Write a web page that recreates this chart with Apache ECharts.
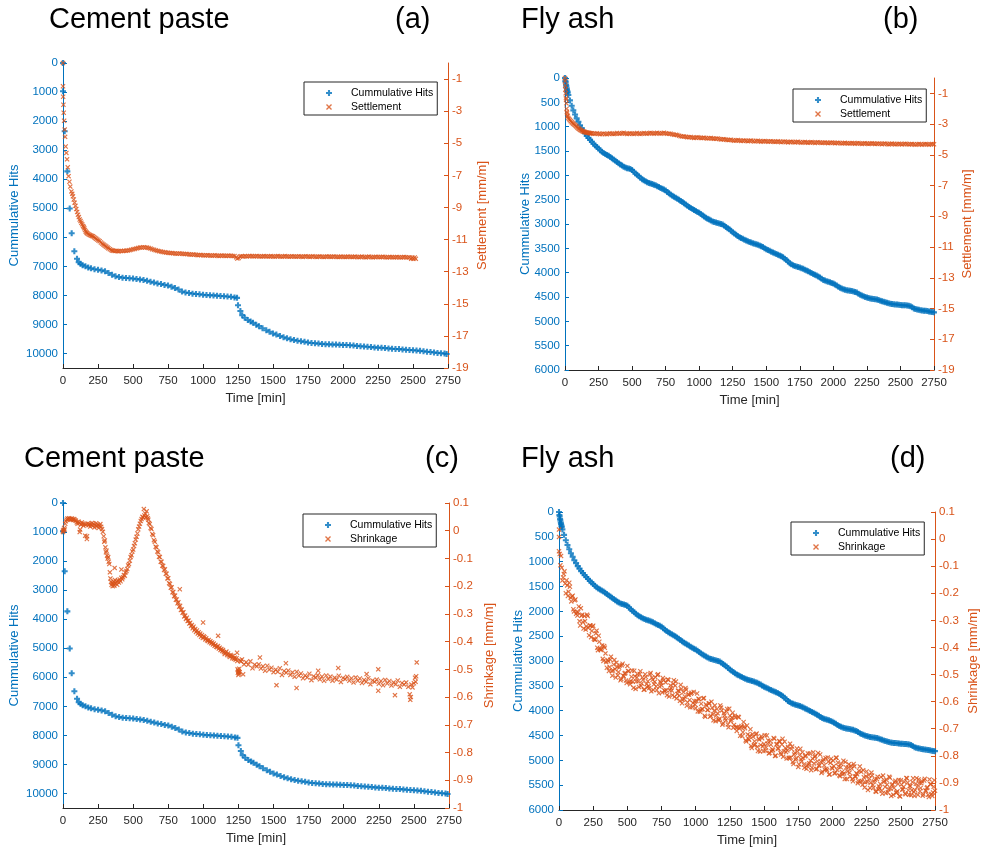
<!DOCTYPE html>
<html>
<head>
<meta charset="utf-8">
<title>Cummulative hits vs settlement / shrinkage</title>
<script src="https://cdn.jsdelivr.net/npm/echarts@6/dist/echarts.min.js"></script>
<style>
  html, body { margin: 0; padding: 0; background: #fff; }
  #chart { width: 983px; height: 849px; }
</style>
</head>
<body>
<div id="chart"></div>
<script>
// tick labels
const cementHitTicks = [0, 1000, 2000, 3000, 4000, 5000, 6000, 7000, 8000, 9000, 10000]
const flyHitTicks = [0, 500, 1000, 1500, 2000, 2500, 3000, 3500, 4000, 4500, 5000, 5500, 6000]
const settlementTicks = [-19, -17, -15, -13, -11, -9, -7, -5, -3, -1]
const shrinkageTicks = [-1, -0.9, -0.8, -0.7, -0.6, -0.5, -0.4, -0.3, -0.2, -0.1, 0, 0.1]

// [time (min), cumulative hits] - cement paste, shared by (a) and (c)
const cementHits = [
  [0, 0], [0, 975], [12, 2350], [31, 3730], [48, 5010], [62, 5860], [81, 6480], [100, 6740],
  [112, 6860], [125, 6910], [140, 6960], [160, 7000], [180, 7040], [200, 7070], [225, 7100],
  [250, 7120], [275, 7140], [300, 7170], [325, 7230], [350, 7290], [375, 7340], [400, 7370],
  [425, 7390], [450, 7400], [475, 7410], [500, 7420], [525, 7440], [550, 7450], [575, 7470],
  [600, 7500], [625, 7530], [650, 7560], [675, 7590], [700, 7610], [725, 7640], [750, 7660],
  [775, 7700], [800, 7750], [825, 7800], [850, 7870], [875, 7900], [900, 7920], [925, 7940],
  [950, 7950], [975, 7960], [1000, 7980], [1025, 7990], [1050, 7995], [1075, 8000], [1100, 8010],
  [1125, 8020], [1150, 8030], [1175, 8040], [1200, 8050], [1225, 8070], [1243, 8085],
  [1250, 8340], [1267, 8540], [1280, 8680], [1298, 8770], [1320, 8850], [1340, 8900], [1357, 8945],
  [1380, 9010], [1400, 9060], [1425, 9130], [1452, 9200], [1475, 9250], [1500, 9310], [1524, 9350],
  [1550, 9400], [1575, 9440], [1600, 9480], [1625, 9510], [1650, 9540], [1675, 9560], [1700, 9580],
  [1725, 9600], [1750, 9620], [1775, 9640], [1800, 9650], [1825, 9660], [1850, 9670], [1875, 9680],
  [1900, 9685], [1925, 9690], [1950, 9695], [1975, 9700], [2000, 9705], [2025, 9710], [2050, 9715],
  [2075, 9725], [2100, 9740], [2125, 9750], [2150, 9760], [2175, 9770], [2200, 9780], [2225, 9790],
  [2250, 9800], [2275, 9805], [2300, 9815], [2325, 9825], [2350, 9835], [2375, 9845], [2400, 9850],
  [2425, 9860], [2450, 9870], [2475, 9880], [2500, 9890], [2525, 9900], [2550, 9910], [2575, 9925],
  [2600, 9940], [2625, 9950], [2650, 9965], [2675, 9980], [2700, 9990], [2725, 10000], [2740, 10020]
]

// [time, settlement mm/m] - cement paste (a)
const cementSettlement = [
  [0, 0], [0, -1.45], [1, -2.1], [3, -2.6], [5, -3.1], [8, -3.6], [12, -4.15], [15, -4.6], [19, -5.2],
  [24, -5.6], [29, -6.0], [34, -6.5], [40, -7.05], [46, -7.4], [52, -7.7], [60, -8.0], [66, -8.15],
  [71, -8.3], [77, -8.5], [83, -8.7], [89, -8.9], [95, -9.1], [101, -9.28], [107, -9.45], [113, -9.6],
  [119, -9.75], [125, -9.85], [131, -9.95], [137, -10.05], [143, -10.15], [148, -10.22], [152, -10.3],
  [157, -10.4], [162, -10.5], [167, -10.55], [171, -10.6], [178, -10.64], [185, -10.68], [192, -10.72],
  [200, -10.75], [207, -10.78], [214, -10.8], [222, -10.85], [230, -10.9], [237, -10.95], [245, -11.0],
  [253, -11.05], [262, -11.1], [271, -11.18], [280, -11.25], [288, -11.3], [295, -11.35], [303, -11.4],
  [310, -11.45], [318, -11.5], [325, -11.55], [335, -11.6], [345, -11.65], [352, -11.68], [360, -11.7],
  [370, -11.71], [381, -11.7], [390, -11.72], [400, -11.72], [412, -11.71], [425, -11.71], [437, -11.7],
  [450, -11.7], [462, -11.68], [475, -11.66], [487, -11.63], [500, -11.6], [512, -11.58], [525, -11.55],
  [537, -11.52], [550, -11.5], [562, -11.49], [575, -11.48], [587, -11.49], [600, -11.5], [612, -11.53],
  [625, -11.56], [637, -11.6], [650, -11.63], [662, -11.67], [675, -11.7], [687, -11.73], [700, -11.75],
  [712, -11.77], [725, -11.79], [737, -11.81], [750, -11.82], [762, -11.84], [775, -11.84], [787, -11.85],
  [800, -11.86], [812, -11.88], [825, -11.87], [837, -11.87], [850, -11.88], [862, -11.9], [875, -11.9],
  [887, -11.9], [900, -11.92], [912, -11.94], [925, -11.93], [937, -11.93], [950, -11.95], [962, -11.97],
  [975, -11.96], [987, -11.96], [1000, -11.97], [1012, -11.99], [1025, -11.98], [1037, -11.97],
  [1050, -11.99], [1062, -12.01], [1075, -11.99], [1087, -11.98], [1100, -12.0], [1112, -12.02],
  [1125, -12.0], [1137, -11.99], [1150, -12.0], [1162, -12.02], [1175, -12.01], [1187, -12.0],
  [1200, -12.01], [1212, -12.03], [1225, -12.03], [1237, -12.1], [1245, -12.18], [1255, -12.15],
  [1265, -12.05], [1275, -12.04], [1287, -12.05], [1300, -12.03], [1312, -12.05], [1325, -12.04],
  [1337, -12.02], [1350, -12.03], [1362, -12.05], [1375, -12.04], [1387, -12.02], [1400, -12.04],
  [1412, -12.06], [1425, -12.05], [1437, -12.03], [1450, -12.04], [1462, -12.06], [1475, -12.05],
  [1487, -12.03], [1500, -12.05], [1512, -12.07], [1525, -12.04], [1537, -12.03], [1550, -12.05],
  [1562, -12.07], [1575, -12.05], [1587, -12.03], [1600, -12.05], [1612, -12.07], [1625, -12.06],
  [1637, -12.04], [1650, -12.05], [1662, -12.07], [1675, -12.06], [1687, -12.04], [1700, -12.06],
  [1712, -12.08], [1725, -12.05], [1737, -12.04], [1750, -12.06], [1762, -12.08], [1775, -12.06],
  [1787, -12.04], [1800, -12.07], [1812, -12.09], [1825, -12.06], [1837, -12.05], [1850, -12.07],
  [1862, -12.09], [1875, -12.07], [1887, -12.05], [1900, -12.06], [1912, -12.08], [1925, -12.07],
  [1937, -12.05], [1950, -12.07], [1962, -12.09], [1975, -12.08], [1987, -12.06], [2000, -12.07],
  [2012, -12.09], [2025, -12.08], [2037, -12.06], [2050, -12.07], [2062, -12.09], [2075, -12.08],
  [2087, -12.06], [2100, -12.08], [2112, -12.1], [2125, -12.08], [2137, -12.06], [2150, -12.09],
  [2162, -12.11], [2175, -12.08], [2187, -12.06], [2200, -12.09], [2212, -12.11], [2225, -12.09],
  [2237, -12.07], [2250, -12.08], [2262, -12.1], [2275, -12.09], [2287, -12.07], [2300, -12.09],
  [2312, -12.11], [2325, -12.1], [2337, -12.08], [2350, -12.09], [2362, -12.11], [2375, -12.1],
  [2387, -12.08], [2400, -12.1], [2412, -12.12], [2425, -12.1], [2437, -12.08], [2450, -12.1],
  [2462, -12.12], [2475, -12.11], [2487, -12.2], [2495, -12.12], [2503, -12.2], [2512, -12.12], [2520, -12.2]
]

// [time, cumulative hits] - fly ash, shared by (b) and (d)
const flyHits = [
  [0, 0], [3, 60], [5, 90], [8, 140], [10, 170], [13, 210], [15, 240], [18, 275], [20, 300],
  [25, 350], [37, 460], [50, 570], [62, 665], [75, 750], [87, 830], [100, 900], [112, 970],
  [125, 1030], [137, 1090], [150, 1140], [162, 1190], [175, 1230], [187, 1272], [200, 1310],
  [212, 1350], [225, 1385], [237, 1418], [250, 1450], [262, 1485], [275, 1515], [287, 1540],
  [300, 1560], [312, 1580], [325, 1600], [337, 1625], [350, 1650], [362, 1675], [375, 1700],
  [387, 1725], [400, 1750], [412, 1775], [425, 1800], [437, 1822], [450, 1840], [462, 1852],
  [475, 1860], [487, 1872], [500, 1890], [512, 1925], [525, 1960], [537, 1990], [550, 2020],
  [562, 2050], [575, 2080], [587, 2100], [600, 2120], [612, 2140], [625, 2155], [637, 2168],
  [650, 2180], [662, 2192], [675, 2205], [687, 2222], [700, 2240], [712, 2258], [725, 2275],
  [737, 2292], [750, 2310], [762, 2340], [775, 2370], [787, 2395], [800, 2420], [812, 2440],
  [825, 2460], [837, 2480], [850, 2500], [862, 2525], [875, 2550], [887, 2575], [900, 2600],
  [912, 2625], [925, 2650], [937, 2670], [950, 2690], [962, 2712], [975, 2735], [987, 2752],
  [1000, 2770], [1012, 2795], [1025, 2820], [1037, 2845], [1050, 2870], [1062, 2890], [1075, 2910],
  [1087, 2930], [1100, 2950], [1112, 2960], [1125, 2970], [1137, 2980], [1150, 2990], [1162, 3000],
  [1175, 3010], [1187, 3035], [1200, 3060], [1212, 3085], [1225, 3110], [1237, 3140], [1250, 3170],
  [1262, 3195], [1275, 3220], [1287, 3245], [1300, 3270], [1312, 3288], [1325, 3305], [1337, 3322],
  [1350, 3340], [1362, 3355], [1375, 3370], [1387, 3382], [1400, 3395], [1412, 3405], [1425, 3415],
  [1437, 3428], [1450, 3440], [1462, 3458], [1475, 3475], [1487, 3498], [1500, 3520], [1512, 3535],
  [1525, 3550], [1537, 3568], [1550, 3585], [1562, 3600], [1575, 3615], [1587, 3630], [1600, 3645],
  [1612, 3665], [1625, 3685], [1637, 3712], [1650, 3740], [1662, 3772], [1675, 3805], [1687, 3828],
  [1700, 3850], [1712, 3862], [1725, 3875], [1737, 3885], [1750, 3895], [1762, 3908], [1775, 3920],
  [1787, 3938], [1800, 3955], [1812, 3972], [1825, 3990], [1837, 4008], [1850, 4025], [1862, 4042],
  [1875, 4060], [1887, 4080], [1900, 4100], [1912, 4125], [1925, 4150], [1937, 4162], [1950, 4175],
  [1962, 4185], [1975, 4195], [1987, 4210], [2000, 4225], [2012, 4245], [2025, 4265], [2037, 4288],
  [2050, 4310], [2062, 4325], [2075, 4340], [2087, 4350], [2100, 4360], [2112, 4365], [2125, 4370],
  [2137, 4378], [2150, 4385], [2162, 4398], [2175, 4410], [2187, 4432], [2200, 4455], [2212, 4470],
  [2225, 4485], [2237, 4498], [2250, 4510], [2262, 4520], [2275, 4530], [2287, 4535], [2300, 4540],
  [2312, 4545], [2325, 4550], [2337, 4562], [2350, 4575], [2362, 4588], [2375, 4600], [2387, 4610],
  [2400, 4620], [2412, 4630], [2425, 4640], [2437, 4645], [2450, 4650], [2462, 4652], [2475, 4655],
  [2487, 4660], [2500, 4665], [2512, 4668], [2525, 4670], [2537, 4672], [2550, 4675], [2562, 4682],
  [2575, 4690], [2587, 4712], [2600, 4735], [2612, 4745], [2625, 4755], [2637, 4762], [2650, 4770],
  [2662, 4775], [2675, 4780], [2687, 4785], [2700, 4790], [2712, 4798], [2725, 4805], [2737, 4810],
  [2750, 4815]
]

// [time, settlement mm/m] - fly ash (b)
const flySettlement = [
  [0, 0], [1, -0.2], [2, -0.5], [3, -0.75], [5, -1.0], [7, -1.3], [8, -1.4], [10, -1.65], [12, -2.0],
  [14, -2.2], [15, -2.3], [18, -2.45], [20, -2.5], [25, -2.6], [31, -2.68], [37, -2.75], [43, -2.82],
  [50, -2.88], [56, -2.93], [62, -2.97], [68, -3.02], [75, -3.07], [81, -3.12], [87, -3.17], [93, -3.23],
  [100, -3.28], [106, -3.32], [112, -3.36], [118, -3.4], [125, -3.43], [131, -3.46], [137, -3.48],
  [143, -3.5], [150, -3.52], [156, -3.54], [162, -3.55], [168, -3.56], [175, -3.57], [181, -3.58],
  [187, -3.59], [193, -3.6], [200, -3.6], [212, -3.63], [225, -3.62], [237, -3.6], [250, -3.63],
  [262, -3.66], [275, -3.64], [287, -3.61], [300, -3.64], [312, -3.66], [325, -3.63], [337, -3.6],
  [350, -3.63], [362, -3.65], [375, -3.62], [387, -3.58], [400, -3.61], [412, -3.63], [425, -3.6],
  [437, -3.57], [450, -3.61], [462, -3.64], [475, -3.62], [487, -3.59], [500, -3.62], [512, -3.64],
  [525, -3.61], [537, -3.58], [550, -3.62], [562, -3.64], [575, -3.61], [587, -3.58], [600, -3.61],
  [612, -3.63], [625, -3.6], [637, -3.57], [650, -3.6], [662, -3.62], [675, -3.6], [687, -3.57],
  [700, -3.6], [712, -3.62], [725, -3.59], [737, -3.56], [750, -3.6], [762, -3.63], [775, -3.62],
  [787, -3.63], [800, -3.66], [812, -3.7], [825, -3.7], [837, -3.71], [850, -3.75], [862, -3.79],
  [875, -3.8], [887, -3.8], [900, -3.83], [912, -3.86], [925, -3.85], [937, -3.84], [950, -3.87],
  [962, -3.9], [975, -3.88], [987, -3.85], [1000, -3.88], [1012, -3.91], [1025, -3.9], [1037, -3.88],
  [1050, -3.91], [1062, -3.94], [1075, -3.92], [1087, -3.9], [1100, -3.93], [1112, -3.96], [1125, -3.95],
  [1137, -3.94], [1150, -3.97], [1162, -4.0], [1175, -3.99], [1187, -3.98], [1200, -4.01], [1212, -4.04],
  [1225, -4.03], [1237, -4.02], [1250, -4.05], [1262, -4.08], [1275, -4.06], [1287, -4.04], [1300, -4.07],
  [1312, -4.1], [1325, -4.08], [1337, -4.06], [1350, -4.09], [1362, -4.12], [1375, -4.09], [1387, -4.07],
  [1400, -4.1], [1412, -4.13], [1425, -4.1], [1437, -4.08], [1450, -4.11], [1462, -4.14], [1475, -4.12],
  [1487, -4.1], [1500, -4.12], [1512, -4.15], [1525, -4.13], [1537, -4.11], [1550, -4.13], [1562, -4.16],
  [1575, -4.14], [1587, -4.12], [1600, -4.15], [1612, -4.18], [1625, -4.15], [1637, -4.13], [1650, -4.16],
  [1662, -4.19], [1675, -4.16], [1687, -4.14], [1700, -4.17], [1712, -4.2], [1725, -4.17], [1737, -4.15],
  [1750, -4.18], [1762, -4.21], [1775, -4.18], [1787, -4.16], [1800, -4.19], [1812, -4.22], [1825, -4.19],
  [1837, -4.17], [1850, -4.2], [1862, -4.23], [1875, -4.2], [1887, -4.18], [1900, -4.2], [1912, -4.23],
  [1925, -4.21], [1937, -4.19], [1950, -4.21], [1962, -4.24], [1975, -4.22], [1987, -4.2], [2000, -4.22],
  [2012, -4.25], [2025, -4.23], [2037, -4.21], [2050, -4.23], [2062, -4.26], [2075, -4.24], [2087, -4.22],
  [2100, -4.24], [2112, -4.27], [2125, -4.25], [2137, -4.23], [2150, -4.25], [2162, -4.28], [2175, -4.25],
  [2187, -4.23], [2200, -4.26], [2212, -4.29], [2225, -4.26], [2237, -4.24], [2250, -4.27], [2262, -4.3],
  [2275, -4.27], [2287, -4.25], [2300, -4.27], [2312, -4.3], [2325, -4.28], [2337, -4.26], [2350, -4.28],
  [2362, -4.31], [2375, -4.28], [2387, -4.26], [2400, -4.29], [2412, -4.32], [2425, -4.29], [2437, -4.27],
  [2450, -4.29], [2462, -4.32], [2475, -4.3], [2487, -4.28], [2500, -4.3], [2512, -4.33], [2525, -4.3],
  [2537, -4.28], [2550, -4.3], [2562, -4.33], [2575, -4.31], [2587, -4.29], [2600, -4.31], [2612, -4.34],
  [2625, -4.31], [2637, -4.29], [2650, -4.31], [2662, -4.34], [2675, -4.31], [2687, -4.29], [2700, -4.31],
  [2712, -4.34], [2725, -4.31], [2737, -4.29], [2750, -4.31]
]

// [time, shrinkage mm/m] - cement paste (c)
const cementShrinkage = [
  [0, 0.0], [0, -0.005], [4, 0.003], [8, 0.01], [12, 0.004], [16, 0.025], [20, 0.034], [26, 0.04],
  [32, 0.044], [38, 0.041], [44, 0.045], [50, 0.042], [56, 0.04], [62, 0.044], [68, 0.041], [74, 0.039],
  [80, 0.042], [86, 0.038], [92, 0.036], [98, 0.03], [104, 0.025], [110, 0.033], [116, 0.028],
  [119, -0.005], [122, 0.004], [128, 0.022], [134, 0.03], [140, 0.025], [146, 0.018], [152, 0.024],
  [158, -0.018], [164, 0.022], [170, -0.03], [171, -0.02], [176, 0.026], [182, 0.02], [188, 0.024],
  [194, 0.015], [200, 0.022], [206, 0.028], [212, 0.018], [218, 0.025], [224, 0.012], [230, 0.02],
  [236, 0.027], [242, 0.016], [248, 0.022], [254, 0.01], [260, 0.018], [266, 0.024], [272, 0.014],
  [278, 0.006], [284, -0.004], [290, -0.02], [294, -0.04], [298, -0.035], [302, -0.06], [306, -0.078],
  [310, -0.072], [314, -0.09], [318, -0.1], [322, -0.095], [326, -0.112], [330, -0.12], [334, -0.15],
  [338, -0.172], [342, -0.185], [346, -0.195], [350, -0.188], [354, -0.2], [358, -0.192], [362, -0.185],
  [366, -0.198], [368, -0.134], [370, -0.178], [374, -0.19], [380, -0.183], [386, -0.195], [392, -0.18],
  [398, -0.187], [404, -0.176], [410, -0.182], [416, -0.14], [416, -0.17], [422, -0.175], [428, -0.168],
  [434, -0.16], [440, -0.162], [446, -0.15], [452, -0.145], [458, -0.138], [464, -0.125], [470, -0.12],
  [476, -0.108], [482, -0.095], [488, -0.088], [494, -0.075], [500, -0.068], [506, -0.055], [512, -0.045],
  [518, -0.032], [524, -0.022], [530, -0.01], [536, 0.005], [542, 0.015], [548, 0.025], [554, 0.035],
  [560, 0.042], [566, 0.05], [572, 0.048], [576, 0.078], [580, 0.055], [586, 0.062], [590, 0.048],
  [596, 0.07], [600, 0.052], [604, 0.045], [608, 0.04], [612, 0.028], [618, 0.024], [624, 0.01],
  [630, 0.006], [636, -0.012], [642, -0.016], [648, -0.034], [654, -0.04], [660, -0.058], [666, -0.06],
  [672, -0.075], [678, -0.078], [684, -0.094], [690, -0.095], [696, -0.112], [702, -0.112], [708, -0.126],
  [714, -0.127], [720, -0.142], [726, -0.139], [732, -0.155], [738, -0.155], [744, -0.172], [750, -0.171],
  [756, -0.189], [762, -0.192], [768, -0.206], [774, -0.204], [780, -0.222], [786, -0.221], [792, -0.236],
  [798, -0.234], [804, -0.249], [810, -0.248], [816, -0.262], [822, -0.258], [828, -0.274], [832, -0.211],
  [834, -0.271], [840, -0.286], [846, -0.284], [852, -0.296], [858, -0.294], [864, -0.309], [870, -0.306],
  [876, -0.318], [882, -0.314], [888, -0.326], [894, -0.324], [900, -0.335], [906, -0.332], [912, -0.344],
  [918, -0.34], [924, -0.352], [930, -0.346], [936, -0.359], [942, -0.354], [948, -0.365], [954, -0.36],
  [960, -0.371], [966, -0.366], [972, -0.376], [978, -0.371], [984, -0.382], [990, -0.376], [996, -0.387],
  [998, -0.331], [1002, -0.381], [1008, -0.384], [1014, -0.392], [1020, -0.388], [1026, -0.395],
  [1032, -0.398], [1038, -0.394], [1044, -0.402], [1050, -0.399], [1056, -0.406], [1062, -0.403],
  [1068, -0.41], [1074, -0.407], [1080, -0.415], [1086, -0.412], [1092, -0.418], [1098, -0.42],
  [1104, -0.416], [1105, -0.379], [1110, -0.425], [1116, -0.422], [1122, -0.43], [1128, -0.427],
  [1134, -0.434], [1140, -0.43], [1146, -0.438], [1152, -0.445], [1158, -0.44], [1164, -0.436],
  [1170, -0.448], [1176, -0.443], [1182, -0.45], [1188, -0.455], [1194, -0.448], [1200, -0.452],
  [1206, -0.46], [1212, -0.452], [1218, -0.462], [1224, -0.458], [1230, -0.465], [1236, -0.46],
  [1240, -0.44], [1242, -0.47], [1244, -0.5], [1246, -0.512], [1248, -0.505], [1250, -0.52],
  [1252, -0.508], [1254, -0.515], [1256, -0.498], [1258, -0.51], [1262, -0.468], [1268, -0.472],
  [1275, -0.464], [1283, -0.518], [1290, -0.482], [1305, -0.474], [1320, -0.483], [1335, -0.471],
  [1350, -0.496], [1365, -0.483], [1380, -0.489], [1395, -0.482], [1403, -0.457], [1410, -0.497],
  [1425, -0.489], [1440, -0.505], [1455, -0.487], [1470, -0.501], [1485, -0.494], [1500, -0.51],
  [1515, -0.501], [1521, -0.557], [1530, -0.509], [1545, -0.496], [1560, -0.52], [1575, -0.506],
  [1588, -0.478], [1590, -0.512], [1605, -0.504], [1620, -0.52], [1635, -0.511], [1650, -0.527],
  [1664, -0.567], [1665, -0.509], [1680, -0.523], [1695, -0.515], [1710, -0.532], [1725, -0.522],
  [1740, -0.529], [1755, -0.516], [1770, -0.539], [1785, -0.525], [1800, -0.53], [1815, -0.521],
  [1818, -0.505], [1830, -0.536], [1845, -0.526], [1860, -0.541], [1875, -0.522], [1890, -0.535],
  [1905, -0.526], [1920, -0.541], [1935, -0.53], [1950, -0.537], [1961, -0.495], [1965, -0.523],
  [1980, -0.546], [1995, -0.531], [2010, -0.535], [2025, -0.527], [2040, -0.541], [2055, -0.532],
  [2070, -0.547], [2085, -0.529], [2100, -0.541], [2115, -0.533], [2130, -0.549], [2145, -0.538],
  [2160, -0.545], [2163, -0.517], [2175, -0.532], [2190, -0.554], [2205, -0.54], [2220, -0.545],
  [2235, -0.537], [2246, -0.5], [2246, -0.577], [2250, -0.552], [2265, -0.542], [2280, -0.557],
  [2295, -0.538], [2310, -0.551], [2325, -0.542], [2340, -0.558], [2355, -0.547], [2365, -0.593],
  [2370, -0.554], [2385, -0.54], [2400, -0.563], [2415, -0.549], [2430, -0.555], [2445, -0.547],
  [2460, -0.563], [2470, -0.59], [2474, -0.61], [2478, -0.6], [2482, -0.555], [2490, -0.565],
  [2500, -0.55], [2508, -0.53], [2512, -0.545], [2516, -0.525], [2520, -0.475]
]

// [time, shrinkage mm/m] - fly ash (d)
const flyShrinkage = [
  [0, 0.035], [0, 0.008], [0, -0.045], [10, -0.097], [20, -0.106], [30, -0.142], [40, -0.119],
  [50, -0.2], [60, -0.171], [70, -0.194], [80, -0.176], [90, -0.23], [100, -0.209], [110, -0.267],
  [120, -0.223], [130, -0.269], [140, -0.27], [150, -0.303], [160, -0.255], [170, -0.279], [180, -0.33],
  [190, -0.303], [200, -0.322], [210, -0.284], [220, -0.355], [230, -0.319], [240, -0.339], [250, -0.32],
  [260, -0.371], [270, -0.348], [280, -0.401], [290, -0.357], [300, -0.405], [310, -0.407], [320, -0.442],
  [330, -0.395], [340, -0.422], [350, -0.475], [360, -0.451], [370, -0.472], [380, -0.434], [390, -0.504],
  [400, -0.463], [410, -0.48], [420, -0.456], [430, -0.503], [440, -0.474], [450, -0.521], [460, -0.466],
  [470, -0.504], [480, -0.496], [490, -0.522], [500, -0.468], [510, -0.488], [520, -0.536], [530, -0.508],
  [540, -0.527], [550, -0.486], [560, -0.553], [570, -0.511], [580, -0.525], [590, -0.498], [600, -0.542],
  [610, -0.511], [620, -0.556], [630, -0.499], [640, -0.535], [650, -0.525], [660, -0.55], [670, -0.494],
  [680, -0.512], [690, -0.557], [700, -0.527], [710, -0.544], [720, -0.502], [730, -0.569], [740, -0.526],
  [750, -0.54], [760, -0.513], [770, -0.559], [780, -0.529], [790, -0.576], [800, -0.52], [810, -0.558],
  [820, -0.55], [830, -0.576], [840, -0.521], [850, -0.541], [860, -0.588], [870, -0.56], [880, -0.578],
  [890, -0.538], [900, -0.606], [910, -0.565], [920, -0.581], [930, -0.556], [940, -0.603], [950, -0.574],
  [960, -0.621], [970, -0.567], [980, -0.605], [990, -0.598], [1000, -0.624], [1010, -0.57], [1020, -0.589],
  [1030, -0.637], [1040, -0.608], [1050, -0.627], [1060, -0.587], [1070, -0.656], [1080, -0.615],
  [1090, -0.631], [1100, -0.606], [1110, -0.652], [1120, -0.623], [1130, -0.669], [1140, -0.614],
  [1150, -0.651], [1160, -0.643], [1170, -0.669], [1180, -0.614], [1190, -0.633], [1200, -0.68],
  [1210, -0.651], [1220, -0.669], [1230, -0.627], [1240, -0.695], [1250, -0.652], [1260, -0.667],
  [1270, -0.641], [1280, -0.686], [1290, -0.659], [1300, -0.708], [1310, -0.656], [1320, -0.698],
  [1330, -0.695], [1340, -0.727], [1350, -0.675], [1360, -0.698], [1370, -0.747], [1380, -0.721],
  [1390, -0.741], [1400, -0.702], [1410, -0.771], [1420, -0.73], [1430, -0.746], [1440, -0.721],
  [1450, -0.767], [1460, -0.737], [1470, -0.784], [1480, -0.728], [1490, -0.765], [1500, -0.756],
  [1510, -0.781], [1520, -0.725], [1530, -0.743], [1540, -0.789], [1550, -0.759], [1560, -0.776],
  [1570, -0.734], [1580, -0.801], [1590, -0.758], [1600, -0.772], [1610, -0.745], [1620, -0.789],
  [1630, -0.758], [1640, -0.803], [1650, -0.748], [1660, -0.786], [1670, -0.78], [1680, -0.808],
  [1690, -0.755], [1700, -0.775], [1710, -0.823], [1720, -0.795], [1730, -0.814], [1740, -0.773],
  [1750, -0.841], [1760, -0.798], [1770, -0.813], [1780, -0.787], [1790, -0.832], [1800, -0.802],
  [1810, -0.848], [1820, -0.791], [1830, -0.827], [1840, -0.818], [1850, -0.843], [1860, -0.787],
  [1870, -0.804], [1880, -0.85], [1890, -0.82], [1900, -0.837], [1910, -0.795], [1920, -0.863],
  [1930, -0.82], [1940, -0.835], [1950, -0.808], [1960, -0.853], [1970, -0.822], [1980, -0.868],
  [1990, -0.811], [2000, -0.847], [2010, -0.838], [2020, -0.863], [2030, -0.807], [2040, -0.825],
  [2050, -0.872], [2060, -0.842], [2070, -0.86], [2080, -0.818], [2090, -0.886], [2100, -0.843],
  [2110, -0.858], [2120, -0.831], [2130, -0.876], [2140, -0.847], [2150, -0.894], [2160, -0.839],
  [2170, -0.876], [2180, -0.868], [2190, -0.894], [2200, -0.839], [2210, -0.859], [2220, -0.907],
  [2230, -0.879], [2240, -0.898], [2250, -0.858], [2260, -0.926], [2270, -0.884], [2280, -0.899],
  [2290, -0.873], [2300, -0.918], [2310, -0.888], [2320, -0.933], [2330, -0.877], [2340, -0.913],
  [2350, -0.904], [2360, -0.929], [2370, -0.873], [2380, -0.891], [2390, -0.937], [2400, -0.906],
  [2410, -0.923], [2420, -0.881], [2430, -0.948], [2440, -0.905], [2450, -0.919], [2460, -0.892],
  [2470, -0.935], [2480, -0.904], [2490, -0.948], [2500, -0.89], [2510, -0.925], [2520, -0.915],
  [2530, -0.939], [2540, -0.882], [2550, -0.899], [2560, -0.944], [2570, -0.912], [2580, -0.927],
  [2590, -0.883], [2600, -0.948], [2610, -0.903], [2620, -0.915], [2630, -0.887], [2640, -0.931],
  [2650, -0.901], [2660, -0.947], [2670, -0.891], [2680, -0.928], [2690, -0.919], [2700, -0.944],
  [2710, -0.887], [2720, -0.904], [2730, -0.948], [2740, -0.914], [2750, -0.929],
  [5, -0.055], [15, -0.062], [25, -0.153], [35, -0.129], [45, -0.164], [55, -0.152], [65, -0.21],
  [75, -0.161], [85, -0.216], [95, -0.212], [105, -0.259], [115, -0.226], [125, -0.276], [135, -0.282],
  [145, -0.249], [155, -0.319], [165, -0.283], [175, -0.306], [185, -0.284], [195, -0.334], [205, -0.279],
  [215, -0.328], [225, -0.319], [235, -0.362], [245, -0.323], [255, -0.368], [265, -0.372], [275, -0.338],
  [285, -0.41], [295, -0.379], [305, -0.409], [315, -0.393], [325, -0.45], [335, -0.401], [345, -0.454],
  [355, -0.446], [365, -0.487], [375, -0.445], [385, -0.487], [395, -0.485], [405, -0.446], [415, -0.511],
  [425, -0.471], [435, -0.491], [445, -0.467], [455, -0.516], [465, -0.46], [475, -0.507], [485, -0.494],
  [495, -0.531], [505, -0.487], [515, -0.527], [525, -0.525], [535, -0.485], [545, -0.549], [555, -0.506],
  [565, -0.525], [575, -0.499], [585, -0.546], [595, -0.488], [605, -0.533], [615, -0.519], [625, -0.555],
  [635, -0.509], [645, -0.547], [655, -0.542], [665, -0.5], [675, -0.562], [685, -0.519], [695, -0.536],
  [705, -0.51], [715, -0.557], [725, -0.499], [735, -0.544], [745, -0.53], [755, -0.566], [765, -0.521],
  [775, -0.561], [785, -0.558], [795, -0.518], [805, -0.581], [815, -0.54], [825, -0.559], [835, -0.534],
  [845, -0.582], [855, -0.526], [865, -0.572], [875, -0.56], [885, -0.597], [895, -0.553], [905, -0.592],
  [915, -0.59], [925, -0.55], [935, -0.615], [945, -0.574], [955, -0.594], [965, -0.571], [975, -0.62],
  [985, -0.564], [995, -0.611], [1005, -0.598], [1015, -0.636], [1025, -0.591], [1035, -0.631],
  [1045, -0.628], [1055, -0.588], [1065, -0.652], [1075, -0.611], [1085, -0.631], [1095, -0.607],
  [1105, -0.656], [1115, -0.6], [1125, -0.647], [1135, -0.634], [1145, -0.672], [1155, -0.627],
  [1165, -0.666], [1175, -0.663], [1185, -0.622], [1195, -0.685], [1205, -0.643], [1215, -0.662],
  [1225, -0.636], [1235, -0.684], [1245, -0.626], [1255, -0.672], [1265, -0.659], [1275, -0.696],
  [1285, -0.652], [1295, -0.694], [1305, -0.695], [1315, -0.658], [1325, -0.726], [1335, -0.69],
  [1345, -0.713], [1355, -0.692], [1365, -0.743], [1375, -0.688], [1385, -0.737], [1395, -0.726],
  [1405, -0.764], [1415, -0.72], [1425, -0.76], [1435, -0.758], [1445, -0.718], [1455, -0.782],
  [1465, -0.74], [1475, -0.76], [1485, -0.735], [1495, -0.782], [1505, -0.724], [1515, -0.769],
  [1525, -0.755], [1535, -0.791], [1545, -0.745], [1555, -0.783], [1565, -0.779], [1575, -0.737],
  [1585, -0.799], [1595, -0.756], [1605, -0.774], [1615, -0.748], [1625, -0.795], [1635, -0.737],
  [1645, -0.783], [1655, -0.771], [1665, -0.81], [1675, -0.767], [1685, -0.808], [1695, -0.806],
  [1705, -0.766], [1715, -0.83], [1725, -0.789], [1735, -0.809], [1745, -0.784], [1755, -0.831],
  [1765, -0.774], [1775, -0.82], [1785, -0.807], [1795, -0.844], [1805, -0.799], [1815, -0.837],
  [1825, -0.833], [1835, -0.791], [1845, -0.853], [1855, -0.81], [1865, -0.828], [1875, -0.801],
  [1885, -0.848], [1895, -0.79], [1905, -0.835], [1915, -0.822], [1925, -0.858], [1935, -0.813],
  [1945, -0.851], [1955, -0.848], [1965, -0.806], [1975, -0.869], [1985, -0.826], [1995, -0.844],
  [2005, -0.818], [2015, -0.865], [2025, -0.807], [2035, -0.852], [2045, -0.839], [2055, -0.875],
  [2065, -0.83], [2075, -0.868], [2085, -0.865], [2095, -0.823], [2105, -0.886], [2115, -0.843],
  [2125, -0.862], [2135, -0.837], [2145, -0.886], [2155, -0.83], [2165, -0.877], [2175, -0.864],
  [2185, -0.901], [2195, -0.856], [2205, -0.895], [2215, -0.893], [2225, -0.853], [2235, -0.917],
  [2245, -0.876], [2255, -0.896], [2265, -0.871], [2275, -0.919], [2285, -0.862], [2295, -0.908],
  [2305, -0.895], [2315, -0.931], [2325, -0.886], [2335, -0.924], [2345, -0.92], [2355, -0.878],
  [2365, -0.94], [2375, -0.897], [2385, -0.915], [2395, -0.889], [2405, -0.935], [2415, -0.877],
  [2425, -0.922], [2435, -0.908], [2445, -0.944], [2455, -0.898], [2465, -0.936], [2475, -0.931],
  [2485, -0.889], [2495, -0.95], [2505, -0.906], [2515, -0.923], [2525, -0.896], [2535, -0.942],
  [2545, -0.883], [2555, -0.927], [2565, -0.911], [2575, -0.945], [2585, -0.897], [2595, -0.933],
  [2605, -0.927], [2615, -0.883], [2625, -0.944], [2635, -0.9], [2645, -0.919], [2655, -0.894],
  [2665, -0.942], [2675, -0.885], [2685, -0.93], [2695, -0.916], [2705, -0.952], [2715, -0.905],
  [2725, -0.941], [2735, -0.935], [2745, -0.89]
]

const BLUE = '#0072BD'
const ORANGE = '#D95319'
const GREY = '#262626'
const FONT = '"Liberation Sans", Arial, Helvetica, sans-serif'
const PLUS = 'path://M2.6,0H5.4V2.6H8V5.4H5.4V8H2.6V5.4H0V2.6H2.6Z'
const CROSS = 'path://M1.3,0L4,2.7L6.7,0L8,1.3L5.3,4L8,6.7L6.7,8L4,5.3L1.3,8L0,6.7L2.7,4L0,1.3Z'

const grids = [
  { left: 63, top: 63, width: 385, height: 305 },
  { left: 565, top: 78, width: 369, height: 292 },
  { left: 63, top: 503, width: 386, height: 305 },
  { left: 559, top: 512, width: 376, height: 298 }
]

function timeAxis(gridIndex) {
  return {
    type: 'value',
    gridIndex,
    min: 0,
    max: 2750,
    interval: 250,
    name: 'Time [min]',
    nameLocation: 'middle',
    nameGap: 24,
    nameTextStyle: { color: GREY, fontSize: 13, fontFamily: FONT },
    axisLine: { onZero: false, lineStyle: { color: GREY } },
    axisTick: { inside: true, length: 4, lineStyle: { color: GREY } },
    axisLabel: { color: GREY, fontSize: 11.5, margin: 7, fontFamily: FONT, formatter: v => String(v) },
    splitLine: { show: false }
  }
}

function hitsAxis(gridIndex, max, ticks, nameGap) {
  return {
    type: 'value',
    gridIndex,
    position: 'left',
    inverse: true,
    min: 0,
    max,
    name: 'Cummulative Hits',
    nameLocation: 'middle',
    nameRotate: 90,
    nameGap,
    nameMoveOverlap: false,
    nameTextStyle: { color: BLUE, fontSize: 13, fontFamily: FONT },
    axisLine: { show: true, onZero: false, lineStyle: { color: BLUE } },
    axisTick: { inside: true, length: 4, customValues: ticks, lineStyle: { color: BLUE } },
    axisLabel: {
      color: BLUE, fontSize: 11.5, margin: 5, fontFamily: FONT, customValues: ticks,
      formatter: v => String(v)
    },
    splitLine: { show: false }
  }
}

function rightAxis(gridIndex, name, min, max, ticks, nameGap) {
  return {
    type: 'value',
    gridIndex,
    position: 'right',
    min,
    max,
    name,
    nameLocation: 'middle',
    nameRotate: 90,
    nameGap,
    nameMoveOverlap: false,
    nameTextStyle: { color: ORANGE, fontSize: 13, fontFamily: FONT },
    axisLine: { show: true, onZero: false, lineStyle: { color: ORANGE } },
    axisTick: { inside: true, length: 4, customValues: ticks, lineStyle: { color: ORANGE } },
    axisLabel: {
      color: ORANGE, fontSize: 11.5, margin: 4, fontFamily: FONT, customValues: ticks,
      formatter: v => String(Math.round(v * 10) / 10)
    },
    splitLine: { show: false }
  }
}

function hitsSeries(xIndex, yIndex, data) {
  return {
    name: 'Cummulative Hits', type: 'scatter', xAxisIndex: xIndex, yAxisIndex: yIndex, data,
    symbol: PLUS, symbolSize: 6, itemStyle: { color: BLUE }, silent: true
  }
}

function rightSeries(name, xIndex, yIndex, data) {
  return {
    name, type: 'scatter', xAxisIndex: xIndex, yAxisIndex: yIndex, data,
    symbol: CROSS, symbolSize: 5, itemStyle: { color: ORANGE }, silent: true
  }
}

function legendBox(left, top, second) {
  return {
    left, top,
    orient: 'vertical',
    selectedMode: false,
    backgroundColor: '#fff',
    borderColor: GREY,
    borderWidth: 1,
    borderRadius: 0,
    padding: [5, 4, 2, 22],
    itemGap: 2,
    itemWidth: 34,
    itemHeight: 6,
    textStyle: { color: '#000', fontSize: 10.5, lineHeight: 12, fontFamily: FONT },
    data: [
      { name: 'Cummulative Hits', icon: PLUS, itemStyle: { color: BLUE } },
      { name: second, icon: CROSS, itemStyle: { color: ORANGE } }
    ]
  }
}

function title(text, left, top) {
  return {
    type: 'text', left, top,
    style: { text, fill: '#000', fontSize: 29, fontFamily: FONT }
  }
}

const chart = echarts.init(document.getElementById('chart'), null, { renderer: 'canvas' })

chart.setOption({
  animation: false,
  backgroundColor: '#fff',
  grid: grids.map(g => Object.assign({ outerBoundsMode: 'none' }, g)),
  xAxis: [timeAxis(0), timeAxis(1), timeAxis(2), timeAxis(3)],
  yAxis: [
    hitsAxis(0, 10500, cementHitTicks, 42),
    rightAxis(0, 'Settlement [mm/m]', -19, 0, settlementTicks, 28),
    hitsAxis(1, 6000, flyHitTicks, 33),
    rightAxis(1, 'Settlement [mm/m]', -19, 0, settlementTicks, 27),
    hitsAxis(2, 10500, cementHitTicks, 42),
    rightAxis(2, 'Shrinkage [mm/m]', -1, 0.1, shrinkageTicks, 34),
    hitsAxis(3, 6000, flyHitTicks, 34),
    rightAxis(3, 'Shrinkage [mm/m]', -1, 0.1, shrinkageTicks, 32)
  ],
  legend: [
    legendBox(304, 82, 'Settlement'),
    legendBox(793, 89, 'Settlement'),
    legendBox(303, 514, 'Shrinkage'),
    legendBox(791, 522, 'Shrinkage')
  ],
  graphic: [
    title('Cement paste', 49, 5),
    title('(a)', 395, 5),
    title('Fly ash', 521, 5),
    title('(b)', 883, 5),
    title('Cement paste', 24, 444),
    title('(c)', 425, 444),
    title('Fly ash', 521, 444),
    title('(d)', 890, 444)
  ],
  series: [
    hitsSeries(0, 0, cementHits),
    rightSeries('Settlement', 0, 1, cementSettlement),
    hitsSeries(1, 2, flyHits),
    rightSeries('Settlement', 1, 3, flySettlement),
    hitsSeries(2, 4, cementHits),
    rightSeries('Shrinkage', 2, 5, cementShrinkage),
    hitsSeries(3, 6, flyHits),
    rightSeries('Shrinkage', 3, 7, flyShrinkage)
  ]
})
</script>
</body>
</html>
